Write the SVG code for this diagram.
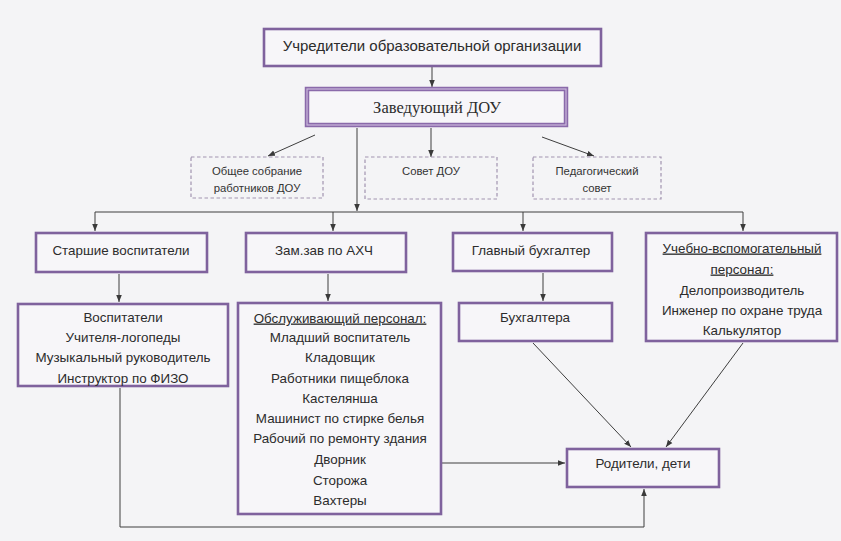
<svg xmlns="http://www.w3.org/2000/svg" width="841" height="541" viewBox="0 0 841 541">
<defs>
<marker id="ah" viewBox="0 0 10 10" refX="10" refY="5" markerWidth="7" markerHeight="7" orient="auto" markerUnits="userSpaceOnUse">
<path d="M0,1 L10,5 L0,9 Z" fill="#3a3a3a"/>
</marker>
<style>
.bx{fill:#f7f6f9;stroke:#7f629d;stroke-width:2.6}
.db{fill:none;stroke:#a193b0;stroke-width:1.2;stroke-dasharray:3.5 2.5}
.t{font-family:"Liberation Sans","Open Sans",sans-serif;font-size:13.4px;fill:#2c2c2c;text-anchor:middle}
.s{font-family:"Liberation Sans","Open Sans",sans-serif;font-size:11.3px;fill:#333;text-anchor:middle}
.u{text-decoration:underline}
.ln{fill:none;stroke:#3e3e3e;stroke-width:1}
.ar{fill:none;stroke:#3e3e3e;stroke-width:1;marker-end:url(#ah)}
</style>
</defs>
<rect width="841" height="541" fill="#f4f4f6"/>

<g id="connectors">
<line class="ar" x1="432" y1="67" x2="432" y2="87"/>
<line class="ar" x1="315" y1="135" x2="268" y2="156"/>
<line class="ar" x1="431" y1="128" x2="431" y2="157"/>
<line class="ar" x1="542" y1="137" x2="594" y2="156"/>
<line class="ar" x1="357" y1="128" x2="357" y2="211"/>
<line class="ln" x1="95" y1="212" x2="743" y2="212"/>
<line class="ar" x1="95" y1="212" x2="95" y2="231"/>
<line class="ar" x1="333" y1="212" x2="333" y2="231"/>
<line class="ar" x1="523" y1="212" x2="523" y2="231"/>
<line class="ar" x1="743" y1="212" x2="743" y2="231"/>
<line class="ar" x1="119" y1="274" x2="119" y2="302"/>
<line class="ar" x1="328" y1="274" x2="328" y2="301"/>
<line class="ar" x1="543" y1="273" x2="543" y2="301"/>
<line class="ar" x1="533" y1="343" x2="631" y2="447"/>
<line class="ar" x1="743" y1="343" x2="666" y2="447"/>
<line class="ar" x1="442" y1="463" x2="565" y2="463"/>
<polyline class="ar" points="120,388 120,527 644,527 644,489"/>
</g>

<g id="founders">
<rect class="bx" x="264" y="29" width="337" height="37"/>
<text class="t" x="432" y="51" style="font-size:15px">Учредители образовательной организации</text>
</g>

<g id="head">
<rect x="307" y="89" width="259" height="36" fill="#f7f6f9" stroke="#8a6aaa" stroke-width="4.5"/>
<rect x="307" y="89" width="259" height="36" fill="none" stroke="#cbb8dc" stroke-width="1.2"/>
<text x="437" y="113" style="font-family:'Liberation Serif','DejaVu Serif',serif;font-size:16.5px;fill:#2c2c2c;text-anchor:middle">Заведующий ДОУ</text>
</g>

<g id="general-meeting">
<rect class="db" x="191" y="157" width="132" height="41"/>
<text class="s" x="257" y="174.5">Общее собрание</text>
<text class="s" x="257" y="191.5">работников ДОУ</text>
</g>

<g id="council">
<rect class="db" x="365" y="157" width="132" height="42"/>
<text class="s" x="431" y="174.5">Совет ДОУ</text>
</g>

<g id="ped-council">
<rect class="db" x="533" y="157" width="128" height="42"/>
<text class="s" x="597" y="174.5">Педагогический</text>
<text class="s" x="597" y="191.5">совет</text>
</g>

<g id="senior-educators">
<rect class="bx" x="36" y="233" width="171" height="39"/>
<text class="t" x="121" y="255">Старшие воспитатели</text>
</g>

<g id="deputy">
<rect class="bx" x="246" y="233" width="160" height="39"/>
<text class="t" x="324" y="255">Зам.зав по АХЧ</text>
</g>

<g id="chief-accountant">
<rect class="bx" x="453" y="233" width="159" height="38"/>
<text class="t" x="531" y="255">Главный бухгалтер</text>
</g>

<g id="support-staff">
<rect class="bx" x="646" y="233" width="191" height="108"/>
<text class="t u" x="742" y="252.5">Учебно-вспомогательный</text>
<text class="t u" x="742" y="273.5">персонал:</text>
<text class="t" x="742" y="294.5">Делопроизводитель</text>
<text class="t" x="742" y="314.5">Инженер по охране труда</text>
<text class="t" x="742" y="334.5">Калькулятор</text>
</g>

<g id="educators">
<rect class="bx" x="18" y="304" width="210" height="82"/>
<text class="t" x="123" y="321.5">Воспитатели</text>
<text class="t" x="123" y="341.5">Учителя-логопеды</text>
<text class="t" x="123" y="362">Музыкальный руководитель</text>
<text class="t" x="123" y="383">Инструктор по ФИЗО</text>
</g>

<g id="service-staff">
<rect class="bx" x="238" y="303" width="203" height="211"/>
<text class="t u" x="340" y="322.5">Обслуживающий персонал:</text>
<text class="t" x="340" y="341.5">Младший воспитатель</text>
<text class="t" x="340" y="362">Кладовщик</text>
<text class="t" x="340" y="382.5">Работники пищеблока</text>
<text class="t" x="340" y="402.5">Кастелянша</text>
<text class="t" x="340" y="422.5">Машинист по стирке белья</text>
<text class="t" x="340" y="442.5">Рабочий по ремонту здания</text>
<text class="t" x="340" y="464">Дворник</text>
<text class="t" x="340" y="484.5">Сторожа</text>
<text class="t" x="340" y="505">Вахтеры</text>
</g>

<g id="accountants">
<rect class="bx" x="459" y="303" width="153" height="38"/>
<text class="t" x="535" y="322">Бухгалтера</text>
</g>

<g id="parents">
<rect class="bx" x="567" y="449" width="152" height="38"/>
<text class="t" x="643" y="467.5">Родители, дети</text>
</g>
</svg>
